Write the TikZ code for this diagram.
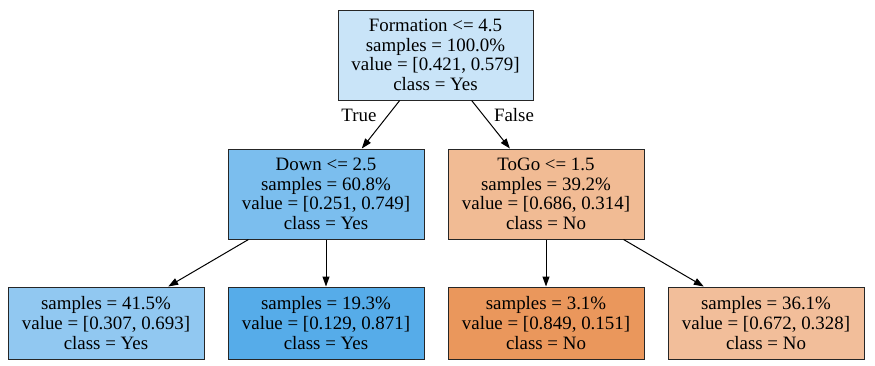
\documentclass[tikz,border=0pt]{standalone}
\usepackage{fontspec}
\setmainfont{Liberation Serif}
\usetikzlibrary{arrows.meta}
\definecolor{cRoot}{RGB}{201,228,248}
\definecolor{cDown}{RGB}{123,190,238}
\definecolor{cToGo}{RGB}{241,187,148}
\definecolor{cLa}{RGB}{145,200,241}
\definecolor{cLb}{RGB}{86,172,233}
\definecolor{cLc}{RGB}{234,151,92}
\definecolor{cLd}{RGB}{242,190,154}
\tikzset{
  treebox/.style={draw=black!85, line width=1pt, inner sep=0pt, align=center,
    minimum width=196pt, font=\fontsize{18.9pt}{19.6pt}\selectfont},
  inner/.style={treebox, minimum height=90pt},
  leaf/.style={treebox, minimum height=72pt},
  edge/.style={line width=1pt, -{Triangle[length=10pt,width=7pt]}},
  elabel/.style={font=\fontsize{18.9pt}{20pt}\selectfont}
}
\begin{document}
\begin{tikzpicture}[x=1pt,y=-1pt]
\useasboundingbox[fill=white] (0,0) rectangle (875,365);
\node[inner, fill=cRoot, minimum width=195pt] (root) at (435.5,55) {Formation <= 4.5\\samples = 100.0\%\\value = [0.421, 0.579]\\class = Yes};
\node[inner, fill=cDown] (down) at (326,194) {Down <= 2.5\\samples = 60.8\%\\value = [0.251, 0.749]\\class = Yes};
\node[inner, fill=cToGo] (togo) at (546,194) {ToGo <= 1.5\\samples = 39.2\%\\value = [0.686, 0.314]\\class = No};
\node[leaf, fill=cLa] (la) at (106,323) {samples = 41.5\%\\value = [0.307, 0.693]\\class = Yes};
\node[leaf, fill=cLb] (lb) at (326,323) {samples = 19.3\%\\value = [0.129, 0.871]\\class = Yes};
\node[leaf, fill=cLc] (lc) at (546,323) {samples = 3.1\%\\value = [0.849, 0.151]\\class = No};
\node[leaf, fill=cLd] (ld) at (766,323) {samples = 36.1\%\\value = [0.672, 0.328]\\class = No};
\draw[edge] (root) -- (down);
\draw[edge] (root) -- (togo);
\draw[edge] (down) -- (la);
\draw[edge] (down) -- (lb);
\draw[edge] (togo) -- (lc);
\draw[edge] (togo) -- (ld);
\node[elabel] (tlab) at (359,115) {True};
\node[elabel] (flab) at (514,115) {False};
\end{tikzpicture}
\end{document}
